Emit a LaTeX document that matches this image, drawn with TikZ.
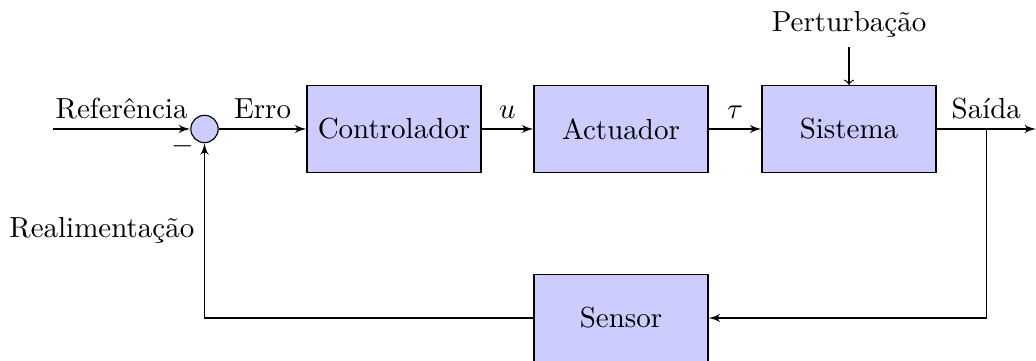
\documentclass[tikz,border=0pt]{standalone}
\usetikzlibrary{arrows,calc}
\begin{document}
\begin{tikzpicture}[>=latex',
  block/.style={draw, fill=blue!20, rectangle, minimum height=3em, minimum width=6em},
  sumnode/.style={draw, fill=blue!20, circle},
  disturb/.style={-to, thin, black}]
\useasboundingbox (0,0) rectangle (357.24pt,-124.48pt);

% forward path
\coordinate (input) at (18.28pt,-44.48pt);
\node[sumnode] (sum) at (70.52pt,-44.48pt) {};
\node[block] (ctrl) at (135.86pt,-44.48pt) {Controlador};
\node[block] (act) at (214.14pt,-44.48pt) {Actuador};
\node[block] (sys) at (292.76pt,-44.48pt) {Sistema};
\coordinate (output) at (357.24pt,-44.48pt);

% feedback path, sensor directly below the actuator
\node[block] (sensor) at (214.14pt,-109.66pt) {Sensor};

% disturbance input
\node[above] (pert) at ($(sys.north)+(0,3ex)$) {Perturbação};

\draw[->] (input) -- node[above] {Referência} (sum);
\draw[->] (sum) -- node[above] {Erro} (ctrl);
\draw[->] (ctrl) -- node[above] {$u$} (act);
\draw[->] (act) -- node[above] {$\tau$} (sys);
\draw[->] (sys) -- node[above] {Saída} coordinate[midway] (y) (output);
\draw[->] (y) |- (sensor);
\draw[->] (sensor) -| node[pos=0.99, left] {$-$} node[near end, left] {Realimentação} (sum);
\draw[disturb] (pert) -- (sys);
\end{tikzpicture}
\end{document}
